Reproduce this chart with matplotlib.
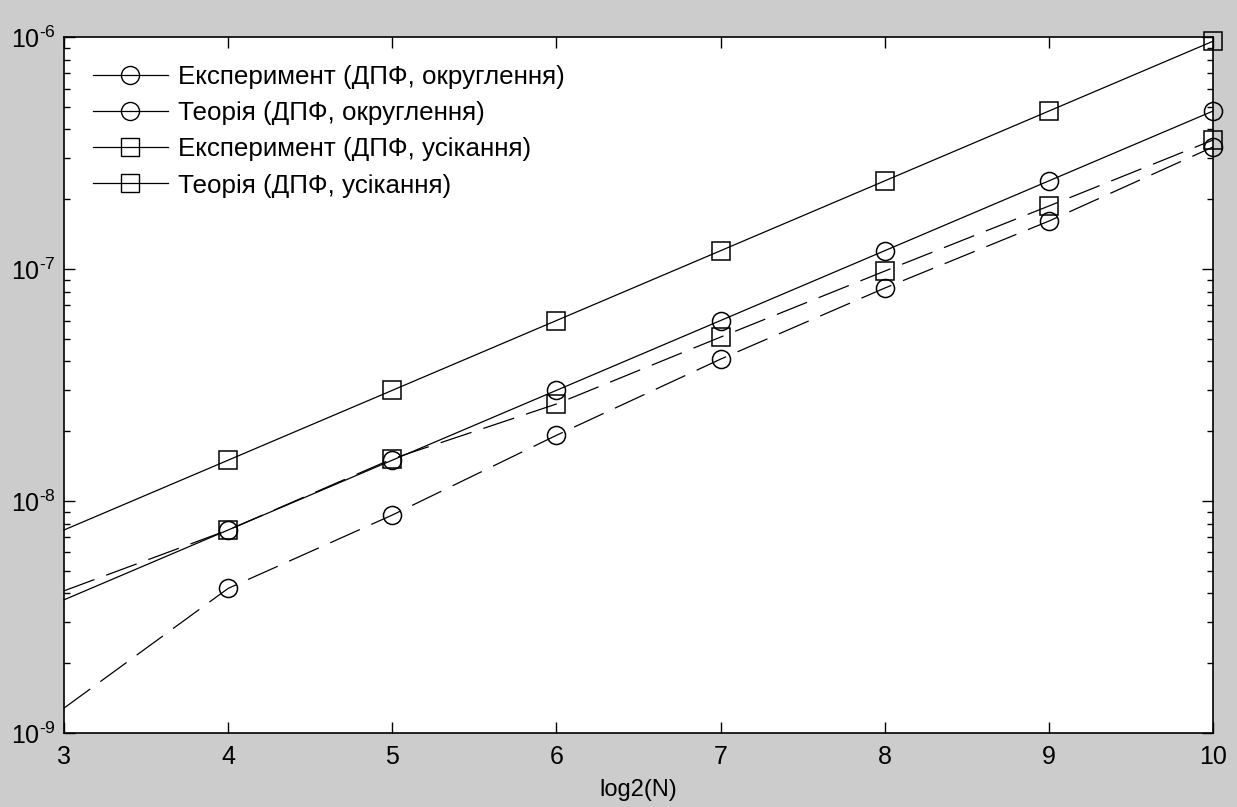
import math
import matplotlib
matplotlib.use("Agg")
import matplotlib.pyplot as plt
from matplotlib.lines import Line2D
from matplotlib.ticker import LogLocator, NullFormatter, FuncFormatter

plt.rcParams["font.family"] = ["Liberation Sans", "DejaVu Sans"]
plt.rcParams["mathtext.fontset"] = "custom"
plt.rcParams["mathtext.rm"] = "Liberation Sans"
plt.rcParams["mathtext.it"] = "Liberation Sans"
plt.rcParams["mathtext.bf"] = "Liberation Sans"

# log2(N)
n_log2 = [3, 4, 5, 6, 7, 8, 9, 10]

# noise variance values
exp_round = [1.28e-9, 4.2e-9, 8.7e-9, 1.92e-8, 4.09e-8, 8.28e-8, 1.61e-7, 3.36e-7]
theory_round = [3.75e-9, 7.5e-9, 1.5e-8, 3.0e-8, 6.0e-8, 1.2e-7, 2.4e-7, 4.8e-7]
exp_trunc = [4.1e-9, 7.5e-9, 1.52e-8, 2.62e-8, 5.09e-8, 9.8e-8, 1.87e-7, 3.6e-7]
theory_trunc = [7.5e-9, 1.5e-8, 3.0e-8, 6.0e-8, 1.2e-7, 2.4e-7, 4.8e-7, 9.6e-7]

labels = [
    "Експеримент (ДПФ, округлення)",
    "Теорія (ДПФ, округлення)",
    "Експеримент (ДПФ, усікання)",
    "Теорія (ДПФ, усікання)",
]

fig = plt.figure(figsize=(12.37, 8.07), dpi=100, facecolor="#cccccc")
ax = fig.add_axes([0.0517, 0.0917, 0.9289, 0.8623])
ax.set_facecolor("white")

ms = 13
dash = (26, 10)
common = dict(color="black", lw=0.9, markersize=ms, markerfacecolor="none",
              markeredgewidth=1.1, markevery=range(1, len(n_log2)), clip_on=False)

ax.semilogy(n_log2, exp_round, marker="o", dashes=dash, **common)
ax.semilogy(n_log2, theory_round, marker="o", ls="-", **common)
ax.semilogy(n_log2, exp_trunc, marker="s", dashes=dash, **common)
ax.semilogy(n_log2, theory_trunc, marker="s", ls="-", **common)

ax.set_xlim(3, 10)
ax.set_ylim(1e-9, 1e-6)


def pow_label(v, pos):
    e = int(round(math.log10(v)))
    if e < 0:
        return r"$\mathregular{10^{\text{-}%d}}$" % abs(e)
    return r"$\mathregular{10^{%d}}$" % e


ax.yaxis.set_major_locator(LogLocator(base=10, numticks=10))
ax.yaxis.set_major_formatter(FuncFormatter(pow_label))
ax.yaxis.set_minor_locator(LogLocator(base=10, subs=range(2, 10), numticks=10))
ax.yaxis.set_minor_formatter(NullFormatter())
ax.yaxis.get_offset_text().set_visible(False)
ax.xaxis.get_offset_text().set_visible(False)

ax.tick_params(which="both", direction="in", top=True, right=True,
               labelsize=18, colors="black")
ax.tick_params(which="major", length=8, width=1)
ax.tick_params(axis="x", which="major", pad=9)
ax.tick_params(axis="y", which="major", pad=6)
ax.tick_params(which="minor", length=4.5, width=1)
for sp in ax.spines.values():
    sp.set_linewidth(1.2)

ax.set_xlabel("log2(N)", fontsize=17, labelpad=7)

handles = [
    Line2D([], [], color="black", lw=0.9, marker="o", markersize=ms, markerfacecolor="none"),
    Line2D([], [], color="black", lw=0.9, marker="o", markersize=ms, markerfacecolor="none"),
    Line2D([], [], color="black", lw=0.9, marker="s", markersize=ms, markerfacecolor="none"),
    Line2D([], [], color="black", lw=0.9, marker="s", markersize=ms, markerfacecolor="none"),
]
ax.legend(handles, labels, loc="upper left", frameon=False, fontsize=18.7,
          handlelength=2.9, handletextpad=0.4, labelspacing=0.47,
          borderaxespad=0.0, borderpad=0.0, bbox_to_anchor=(0.025, 0.96))

fig.savefig("out.png", dpi=100, facecolor=fig.get_facecolor())
